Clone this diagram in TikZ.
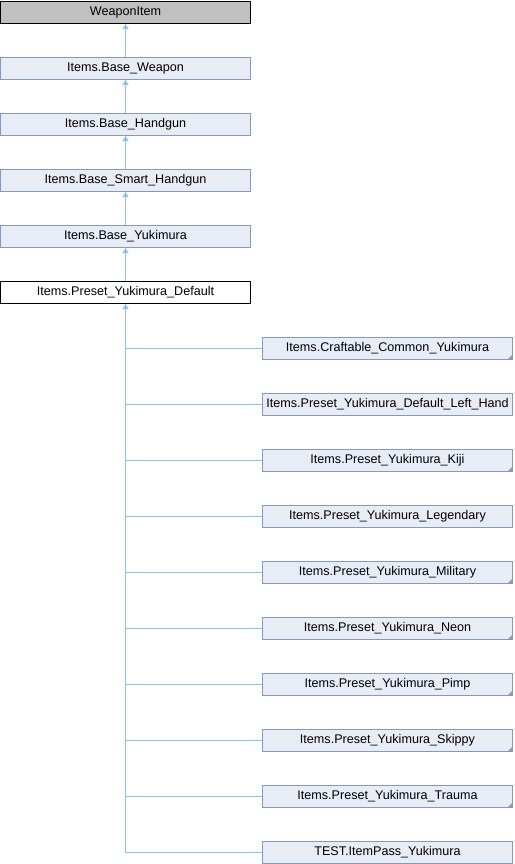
\documentclass[tikz,border=0pt]{standalone}
\usepackage{fontspec}
\setmainfont{Liberation Sans}
\usetikzlibrary{arrows.meta}
\definecolor{boxfill}{RGB}{232,236,245}
\definecolor{boxline}{RGB}{132,152,200}
\definecolor{edgecol}{RGB}{140,195,235}
\definecolor{rootfill}{RGB}{192,192,192}
\begin{document}
\begin{tikzpicture}[x=1pt,y=-1pt,
  cls/.style={draw=boxline,fill=boxfill,minimum width=250pt,minimum height=22pt,inner sep=0pt,line width=1pt,font=\fontsize{12.6}{13}\selectfont},
  rootcls/.style={cls,draw=black,fill=rootfill},
  curcls/.style={cls,draw=black,fill=white},
  edgeline/.style={draw=edgecol,line width=1.1pt},
  inh/.style={edgeline,-{Triangle[width=6pt,length=5pt]}},
  corner/.style={fill=boxline}]
\useasboundingbox (0,0) rectangle (514,864);
\node[rootcls] (root) at (125.5,12.5) {WeaponItem};
\node[cls] (bw) at (125.5,68.5) {Items.Base\_Weapon};
\node[cls] (bh) at (125.5,124.5) {Items.Base\_Handgun};
\node[cls] (bsh) at (125.5,180.5) {Items.Base\_Smart\_Handgun};
\node[cls] (by) at (125.5,236.5) {Items.Base\_Yukimura};
\node[curcls] (def) at (125.5,292.5) {Items.Preset\_Yukimura\_Default};
\draw[inh] (bw.north) -- (root.south);
\draw[inh] (bh.north) -- (bw.south);
\draw[inh] (bsh.north) -- (bh.south);
\draw[inh] (by.north) -- (bsh.south);
\draw[inh] (def.north) -- (by.south);
\node[cls] (c1) at (387.5,348.5) {Items.Craftable\_Common\_Yukimura};
\node[cls] (c2) at (387.5,404.5) {Items.Preset\_Yukimura\_Default\_Left\_Hand};
\node[cls] (c3) at (387.5,460.5) {Items.Preset\_Yukimura\_Kiji};
\node[cls] (c4) at (387.5,516.5) {Items.Preset\_Yukimura\_Legendary};
\node[cls] (c5) at (387.5,572.5) {Items.Preset\_Yukimura\_Military};
\node[cls] (c6) at (387.5,628.5) {Items.Preset\_Yukimura\_Neon};
\node[cls] (c7) at (387.5,684.5) {Items.Preset\_Yukimura\_Pimp};
\node[cls] (c8) at (387.5,740.5) {Items.Preset\_Yukimura\_Skippy};
\node[cls] (c9) at (387.5,796.5) {Items.Preset\_Yukimura\_Trauma};
\node[cls] (c10) at (387.5,852.5) {TEST.ItemPass\_Yukimura};
\draw[inh] (c10.west) -| (def.south);
\foreach \c in {c1,c2,c3,c4,c5,c6,c7,c8,c9}
  \draw[edgeline] (\c.west) -- (def.south |- \c.west);
\foreach \c in {c1,c3,c5,c6,c7,c8,c9}
  \fill[corner] ([shift={(-0.5,-0.5)}]\c.south east) -- ++(-5,0) -- ++(5,-5) -- cycle;
\end{tikzpicture}
\end{document}
